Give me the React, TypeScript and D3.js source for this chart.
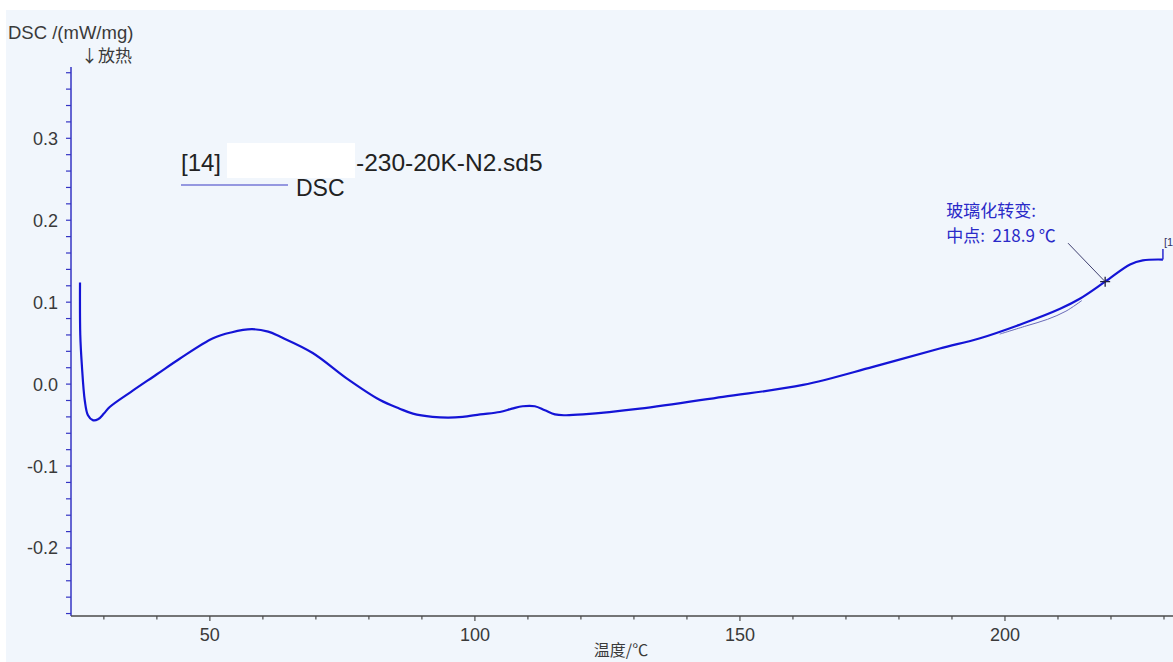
import React, { useEffect, useRef } from "react";
import * as d3 from "d3";

// DSC trace (temperature in °C, DSC in mW/mg)
const temperature = [
  25.5, 25.55, 25.85, 26.4, 27.0, 27.9, 28.9, 30.0, 31.1, 35, 40, 44.3, 50.6,
  54, 57.9, 61, 63.2, 69.4, 75.8, 82.1, 85.8, 88.3, 92, 95, 97.7, 101, 104.7,
  107, 109, 111.3, 113.2, 115.1, 117, 120.4, 131.1, 146.8, 161.9, 175.1, 187.7,
  195.3, 203.4, 210.4, 214.2, 218.9, 223.6, 226, 229.8,
];
const dscValues = [
  0.124, 0.06, 0.023, -0.02, -0.038, -0.044, -0.043, -0.036, -0.028, -0.01,
  0.012, 0.031, 0.056, 0.063, 0.067, 0.064, 0.058, 0.038, 0.007, -0.0195,
  -0.03, -0.036, -0.04, -0.041, -0.04, -0.037, -0.034, -0.03, -0.027, -0.027,
  -0.032, -0.037, -0.038, -0.037, -0.03, -0.0155, -0.001, 0.021, 0.0435, 0.056,
  0.074, 0.092, 0.1045, 0.125, 0.146, 0.151, 0.152,
];

// thin construction line under the glass transition
const baselineTemps = [199, 204, 208, 211.5, 214.5];
const baselineValues = [0.061, 0.071, 0.079, 0.089, 0.102];

// end marker (vertical step at the end of the segment)
const endMarkTemp = 229.8;
const endMarkValues = [0.152, 0.165];

const tgTemp = 218.9;
const tgValue = 0.125;
const tgLeaderStart = [211.9, 0.172];

const xTicks = [30, 40, 50, 60, 70, 80, 90, 100, 110, 120, 130, 140, 150, 160, 170, 180, 190, 200, 210, 220, 230];
const xTickLabels = [50, 100, 150, 200];
const yTickLabels = [-0.2, -0.1, 0.0, 0.1, 0.2, 0.3];

const W = 1173;
const H = 662;
const FONT = "'Liberation Sans', Arial, 'Noto Sans CJK SC', sans-serif";
const CJK = "'Noto Sans CJK SC', 'Liberation Sans', sans-serif";

const App = () => {
  const svgRef = useRef<SVGSVGElement>(null);

  useEffect(() => {
    const svg = d3.select(svgRef.current);
    svg.selectAll("*").remove();

    const x = d3.scaleLinear().domain([23.8, 231.7]).range([71, 1173]);
    const y = d3.scaleLinear().domain([-0.283, 0.387]).range([616, 67]);

    // background
    svg.append("rect").attr("width", W).attr("height", H).attr("fill", "#ffffff");
    svg
      .append("rect")
      .attr("x", 6)
      .attr("y", 10)
      .attr("width", W - 6)
      .attr("height", H - 10)
      .attr("fill", "#f1f6fc");

    // y axis
    const yAxisColor = "#3434c4";
    svg
      .append("line")
      .attr("x1", x(23.8))
      .attr("x2", x(23.8))
      .attr("y1", y(0.387))
      .attr("y2", y(-0.283))
      .attr("stroke", yAxisColor)
      .attr("stroke-width", 1.5);

    const minor = d3.range(-14, 20).map((i) => i * 0.02);
    svg
      .append("g")
      .selectAll("line")
      .data(minor)
      .enter()
      .append("line")
      .attr("x1", x(23.8) - 5)
      .attr("x2", x(23.8))
      .attr("y1", (d) => y(d))
      .attr("y2", (d) => y(d))
      .attr("stroke", yAxisColor)
      .attr("stroke-width", 1.2);

    svg
      .append("g")
      .selectAll("text")
      .data(yTickLabels)
      .enter()
      .append("text")
      .attr("x", 58)
      .attr("y", (d) => y(d))
      .attr("dy", "0.36em")
      .attr("text-anchor", "end")
      .style("font-family", FONT)
      .style("font-size", "18px")
      .style("fill", "#3a3a3a")
      .text((d) => d.toFixed(1));

    // x axis
    svg
      .append("line")
      .attr("x1", x(23.8))
      .attr("x2", W)
      .attr("y1", y(-0.283))
      .attr("y2", y(-0.283))
      .attr("stroke", "#4a4a4a")
      .attr("stroke-width", 1.5);

    svg
      .append("g")
      .selectAll("line")
      .data(xTicks)
      .enter()
      .append("line")
      .attr("x1", (d) => x(d))
      .attr("x2", (d) => x(d))
      .attr("y1", y(-0.283))
      .attr("y2", (d) => y(-0.283) + (d % 50 === 0 ? 5 : 3.5))
      .attr("stroke", "#4a4a4a")
      .attr("stroke-width", 1.2);

    svg
      .append("g")
      .selectAll("text")
      .data(xTickLabels)
      .enter()
      .append("text")
      .attr("x", (d) => x(d))
      .attr("y", 641)
      .attr("text-anchor", "middle")
      .style("font-family", FONT)
      .style("font-size", "18px")
      .style("fill", "#3a3a3a")
      .text((d) => d);

    // axis titles
    svg
      .append("text")
      .attr("x", 8)
      .attr("y", 39)
      .style("font-family", FONT)
      .style("font-size", "18.5px")
      .style("fill", "#3a3a3a")
      .text("DSC /(mW/mg)");
    svg
      .append("text")
      .attr("x", 81)
      .attr("y", 62)
      .style("font-family", CJK)
      .style("font-size", "17px")
      .style("fill", "#3a3a3a")
      .text("↓放热");
    svg
      .append("text")
      .attr("x", 621)
      .attr("y", 656)
      .attr("text-anchor", "middle")
      .style("font-family", CJK)
      .style("font-size", "16px")
      .style("fill", "#3a3a3a")
      .text("温度/℃");

    // legend
    svg
      .append("text")
      .attr("x", 181)
      .attr("y", 171)
      .style("font-family", FONT)
      .style("font-size", "24px")
      .style("fill", "#222")
      .text("[14]");
    svg
      .append("rect")
      .attr("x", 227)
      .attr("y", 143)
      .attr("width", 128)
      .attr("height", 35)
      .attr("fill", "#ffffff");
    svg
      .append("text")
      .attr("x", 356)
      .attr("y", 171)
      .style("font-family", FONT)
      .style("font-size", "24.5px")
      .style("fill", "#222")
      .text("-230-20K-N2.sd5");
    svg
      .append("line")
      .attr("x1", 181)
      .attr("x2", 288)
      .attr("y1", 185)
      .attr("y2", 185)
      .attr("stroke", "#3a3ac4")
      .attr("stroke-width", 1.2);
    svg
      .append("text")
      .attr("x", 296)
      .attr("y", 196)
      .style("font-family", FONT)
      .style("font-size", "23px")
      .style("fill", "#222")
      .text("DSC");

    // construction line
    const baseline = d3
      .line<number>()
      .x((d) => x(d))
      .y((_, i) => y(baselineValues[i]))
      .curve(d3.curveCatmullRom.alpha(0.5));
    svg
      .append("path")
      .attr("d", baseline(baselineTemps))
      .attr("fill", "none")
      .attr("stroke", "#6a6ab8")
      .attr("stroke-width", 1);

    // DSC curve
    const line = d3
      .line<number>()
      .x((d) => x(d))
      .y((_, i) => y(dscValues[i]))
      .curve(d3.curveCatmullRom.alpha(0.5));
    svg
      .append("path")
      .attr("d", line(temperature))
      .attr("fill", "none")
      .attr("stroke", "#1414d6")
      .attr("stroke-width", 2.2)
      .attr("stroke-linejoin", "round");

    // end step + label
    svg
      .append("line")
      .attr("x1", x(endMarkTemp))
      .attr("x2", x(endMarkTemp))
      .attr("y1", y(endMarkValues[0]))
      .attr("y2", y(endMarkValues[1]))
      .attr("stroke", "#2a2ad0")
      .attr("stroke-width", 1.5);
    svg
      .append("text")
      .attr("x", x(endMarkTemp) + 1)
      .attr("y", y(endMarkValues[1]) - 3)
      .style("font-family", FONT)
      .style("font-size", "11px")
      .style("fill", "#333366")
      .text("[1");

    // glass transition annotation
    const cx = x(tgTemp);
    const cy = y(tgValue);
    svg
      .append("line")
      .attr("x1", x(tgLeaderStart[0]))
      .attr("y1", y(tgLeaderStart[1]))
      .attr("x2", cx)
      .attr("y2", cy)
      .attr("stroke", "#404070")
      .attr("stroke-width", 1);
    svg
      .append("path")
      .attr("d", `M${cx - 5},${cy}H${cx + 5}M${cx},${cy - 5}V${cy + 5}`)
      .attr("stroke", "#202040")
      .attr("stroke-width", 1.3);
    svg
      .append("text")
      .attr("x", cx - 159)
      .attr("y", cy - 65)
      .style("font-family", CJK)
      .style("font-size", "17px")
      .style("fill", "#2a2ac8")
      .text("玻璃化转变:");
    svg
      .append("text")
      .attr("x", cx - 159)
      .attr("y", cy - 40)
      .style("font-family", CJK)
      .style("font-size", "17px")
      .style("fill", "#2a2ac8")
      .text("中点:\u00a0\u00a0218.9 ℃");
  }, []);

  return (
    <svg
      ref={svgRef}
      width={W}
      height={H}
      style={{ position: "fixed", left: 0, top: 0, display: "block" }}
    />
  );
};

export default App;
